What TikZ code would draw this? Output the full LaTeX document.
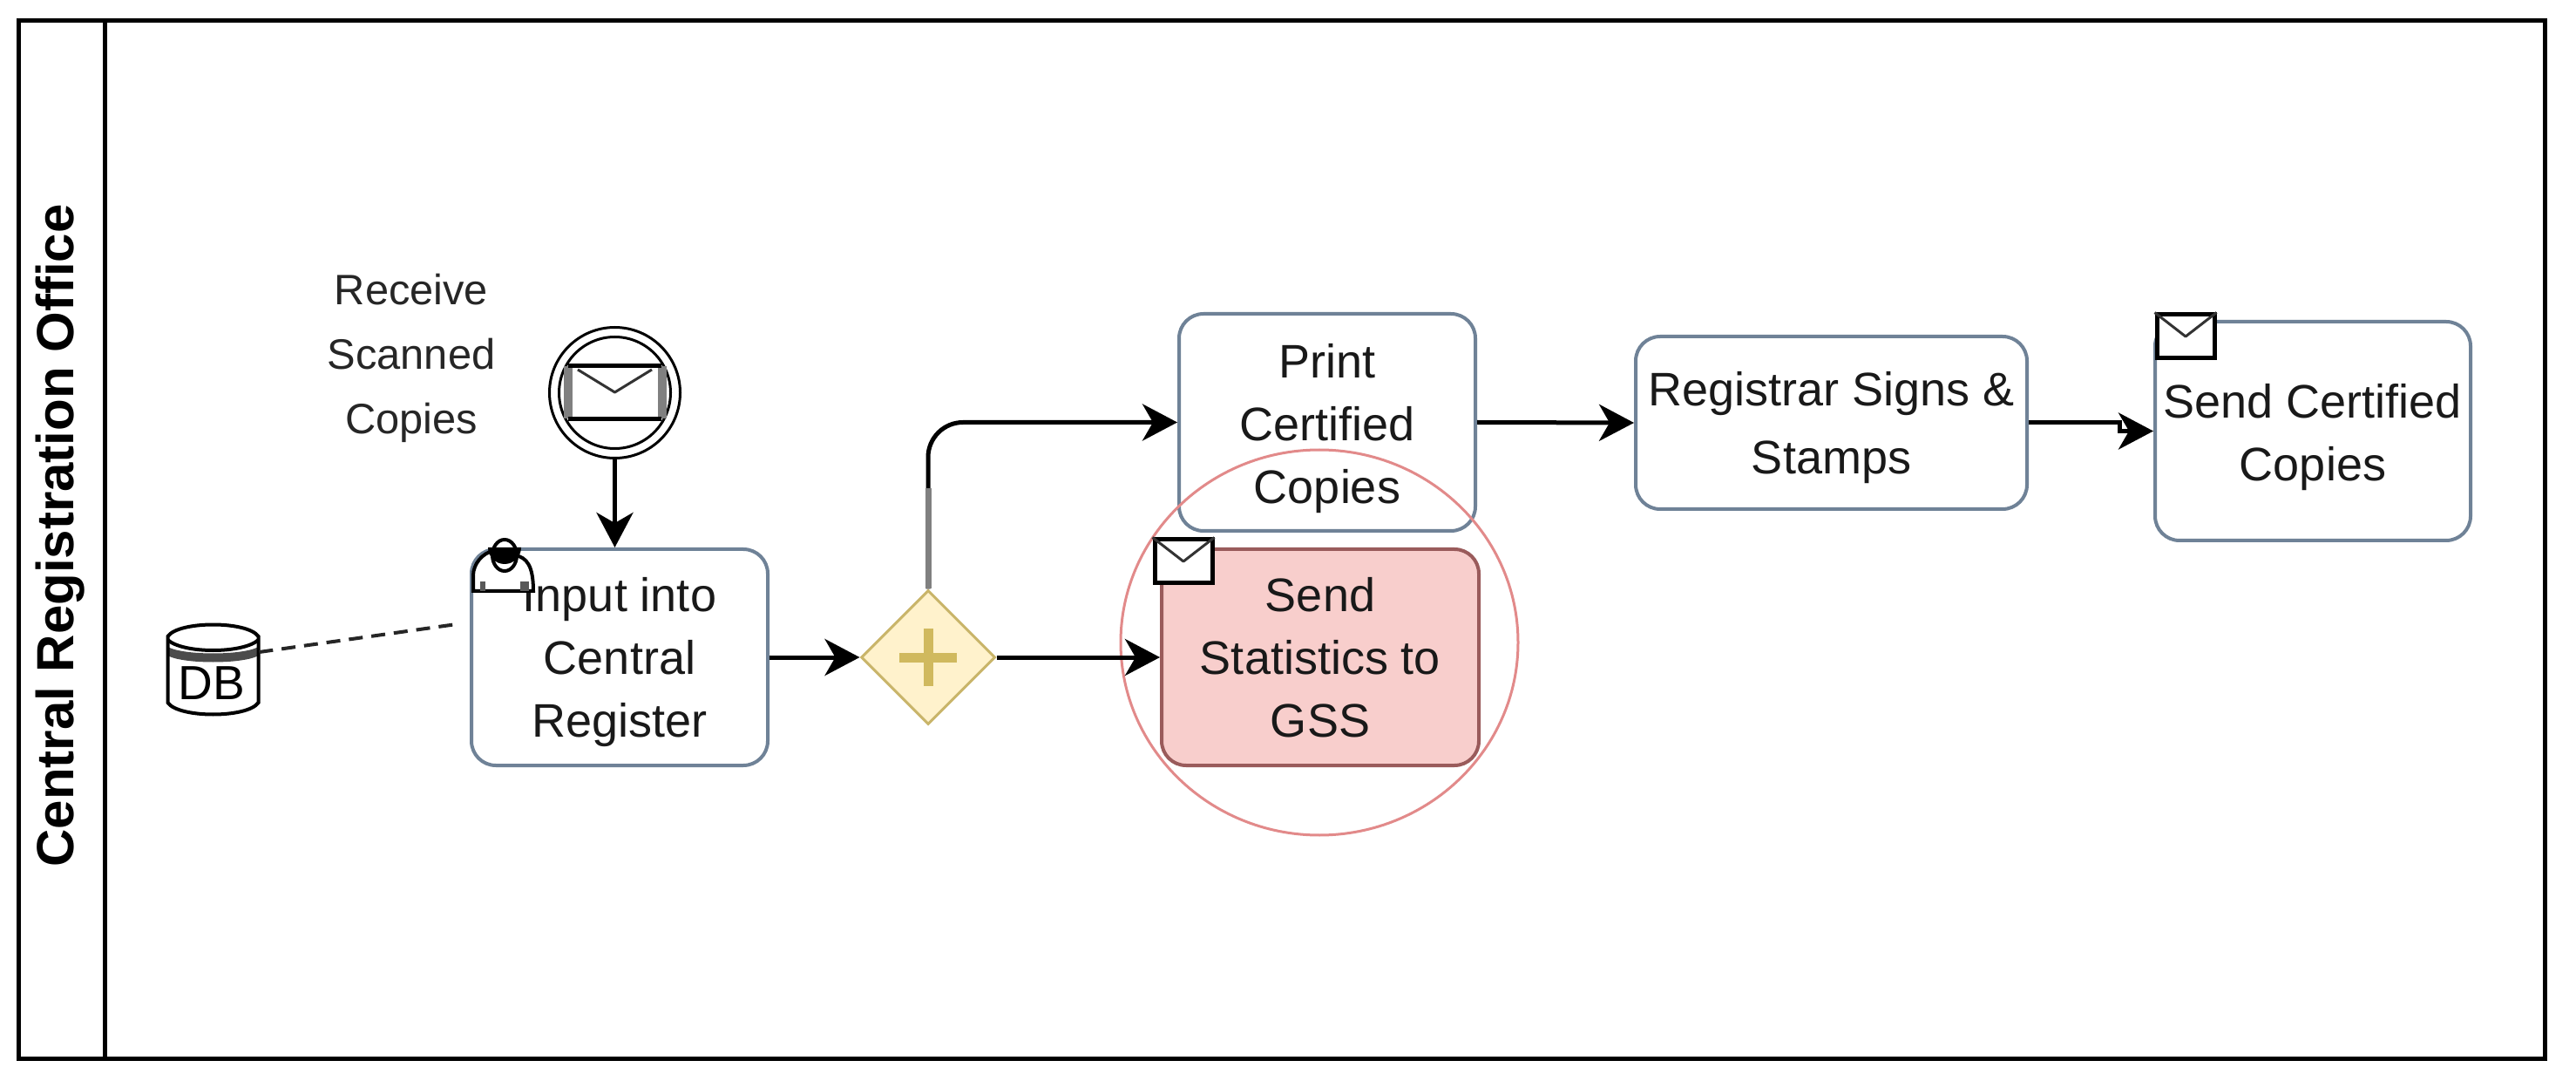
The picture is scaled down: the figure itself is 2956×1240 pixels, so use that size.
\documentclass[tikz,border=0pt]{standalone}
\usepackage{fontspec}
\setmainfont{Liberation Sans}
\usetikzlibrary{arrows.meta,shapes.geometric}
\definecolor{taskline}{HTML}{6F8297}
\definecolor{gwline}{HTML}{C9B56A}
\definecolor{gwfill}{HTML}{FFF2CC}
\definecolor{plus}{HTML}{D0B95E}
\definecolor{redfill}{HTML}{F8CECC}
\definecolor{redline}{HTML}{9A5B5B}
\definecolor{ringline}{HTML}{E28A8A}
\newcommand{\firstline}[1]{\rule{0pt}{#1}}
\tikzset{
  x=0.5pt,y=-0.5pt,
  frame/.style={line width=2.5pt,draw=black},
  task/.style={draw=taskline,line width=2pt,rounded corners=14pt,align=center,inner sep=0pt,font=\fontsize{27}{36}\selectfont,text=black!90},
  flow/.style={line width=2.5pt,draw=black,-{Stealth[length=20pt,width=21pt,inset=6pt]}},
  envbox/.style={draw=black,line width=2.5pt,fill=white,minimum width=33pt,minimum height=25pt,inner sep=0pt},
  flap/.style={draw=black!80,line width=1.5pt,line join=round},
  lbl/.style={align=center,font=\fontsize{24.4}{37}\selectfont,text=black!85,inner sep=0pt},
}
\begin{document}
\begin{tikzpicture}
\useasboundingbox (0,0) rectangle (2956,1240);
\fill[white] (0,0) rectangle (2956,1240);
\coordinate (ftl) at (21.5,23.5);
\coordinate (fbr) at (2920.5,1214.5);
\coordinate (dt) at (120.5,23.5);
\coordinate (db) at (120.5,1214.5);
\draw[frame] (ftl) rectangle (fbr);
\draw[frame] (dt) -- (db);
\node[rotate=90,font=\fontsize{30}{36}\selectfont\bfseries,inner sep=0pt] (title) at (69,614.5) {Central Registration Office};

% tasks
\node[task,minimum width=170pt,minimum height=124pt] (input) at (711,754) {\firstline{25pt}Input into\\Central\\Register};
\node[task,minimum width=170pt,minimum height=124.5pt] (print) at (1523,484.5) {\firstline{27pt}Print\\Certified\\Copies};
\node[task,draw=redline,fill=redfill,minimum width=182pt,minimum height=124pt] (stats) at (1515,754) {Send\\Statistics to\\GSS};
\node[task,minimum width=224.5pt,minimum height=99pt] (reg) at (2101.5,485) {\firstline{25.6pt}Registrar Signs \&\\[3pt]Stamps};
\node[task,minimum width=181pt,minimum height=125.5pt] (cert) at (2654,494.5) {\firstline{27pt}Send Certified\\Copies};

% highlight ring
\node[draw=ringline,line width=1.5pt,ellipse,minimum width=228pt,minimum height=221pt,inner sep=0pt] (ring) at (1514,737) {};

% gateway
\node[diamond,draw=gwline,fill=gwfill,line width=1.5pt,minimum width=77pt,minimum height=77pt,inner sep=0pt] (gw) at (1065,754) {};
\draw[plus,line width=5.5pt] (gw.center)+(-33,0) -- +(33,0);
\draw[plus,line width=5.5pt] (gw.center)+(0,-33) -- +(0,33);

% start event
\node[circle,draw=black,line width=1.5pt,minimum size=75pt,inner sep=0pt] (start) at (705.5,450.5) {};
\node[circle,draw=black,line width=1.5pt,minimum size=64pt,inner sep=0pt] (starti) at (705.5,450.5) {};
\node[minimum width=53pt,minimum height=30pt,inner sep=0pt] (startm) at (705.5,450) {};
\draw[gray,line width=5pt] (651.5,420) -- (651.5,480);
\draw[gray,line width=5pt] (759.5,420) -- (759.5,480);
\draw[black,line width=2.5pt] (startm.north west) -- (startm.north east);
\draw[black,line width=2.5pt] (startm.south west) -- (startm.south east);
\draw[flap] (663,424) -- (705.5,450) -- (748,424);

\node[lbl] (rcv) at (472,411) {Receive\\Scanned\\Copies};

% envelopes
\node[envbox] (env1) at (1358,644) {};
\draw[flap] (env1.north west) -- (env1.center) -- (env1.north east);
\node[envbox] (env2) at (2508,386) {};
\draw[flap] (env2.north west) -- (env2.center) -- (env2.north east);

% data store
\node[minimum width=52.5pt,minimum height=52pt,inner sep=0pt] (dbs) at (244.5,768) {};
\fill[black!70] (192.5,742) .. controls (210,752) and (279,752) .. (296.5,742) -- (296.5,752) .. controls (279,762) and (210,762) .. (192.5,752) -- cycle;
\draw[black,line width=2pt] (192.5,730) .. controls (205,712) and (284,712) .. (296.5,730) -- (296.5,806) .. controls (284,824) and (205,824) .. (192.5,806) -- cycle;
\draw[black,line width=2pt] (192.5,734) .. controls (210,750) and (279,750) .. (296.5,734);
\node[font=\fontsize{27.5}{30}\selectfont,inner sep=0pt] (dbt) at (243,784) {DB};
\coordinate (assoc) at (524,716);
\draw[black!85,line width=2pt,dash pattern=on 8pt off 5pt] (dbs.east |- 0,748) -- (assoc);

% user icon
\coordinate (hd) at (579,637);
\draw[black,line width=2pt,fill=white] (543,678) -- (543,660) .. controls (543,647) and (554,634) .. (566,632) -- (592,637) .. controls (604,640) and (612,648) .. (612,678) -- cycle;
\draw[black!65,line width=3pt] (554,667) -- (554,678);
\draw[black!65,line width=5pt] (602,667) -- (602,678);
\draw[black,line width=2pt,fill=white] (hd) ellipse (7pt and 9pt);
\fill[black] (560,628) arc[start angle=180,end angle=0,radius=19] -- cycle;

% flows
\draw[flow] (start.south) -- (start.south |- input.north);
\draw[flow] (input.east) -- (gw.west);
\draw[flow] (gw.east) -- (stats.west);
\draw[flow,rounded corners=20pt] (gw.north) -- (gw.north |- print.west) -- (print.west);
\coordinate (ups) at (1065,560);
\draw[black!50,line width=3.5pt] (gw.north) -- (ups);
\draw[flow] (print.east) -- (reg.west);
\coordinate (jog) at (2432,485);
\draw[flow] (reg.east) -- (jog) |- (cert.west);
\end{tikzpicture}
\end{document}
